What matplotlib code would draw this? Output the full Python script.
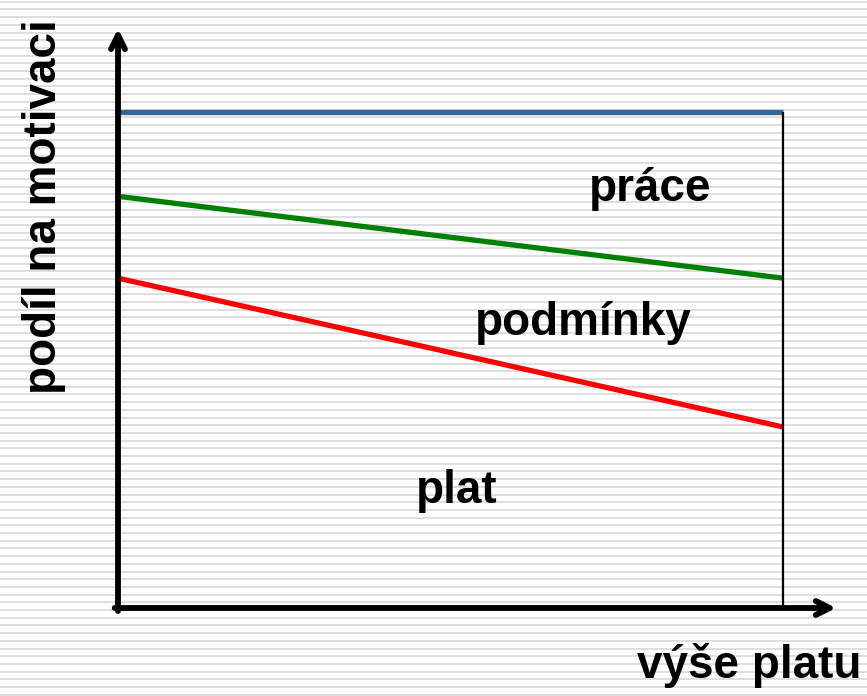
import numpy as np
import matplotlib.pyplot as plt

plt.rcParams["font.family"] = ["Liberation Sans", "DejaVu Sans"]

# data: share of motivation (0-100) along salary level (0-10)
x_range = [0, 10]
total = [100, 100]          # blue top line
conditions = [83, 66.5]     # green line (upper edge of "podmínky")
salary = [66.5, 36.5]       # red line (upper edge of "plat")

labels = ["práce", "podmínky", "plat"]
label_pos = [(8.0, 84.5), (7.0, 57.5), (5.1, 23.5)]

W, H = 867, 696
fig = plt.figure(figsize=(W / 100, H / 100), dpi=100)

# striped slide background
bg = fig.add_axes([0, 0, 1, 1])
bg.set_xlim(0, W)
bg.set_ylim(H, 0)
bg.axis("off")
stripe_y = np.arange(1.7, H, 7.7)
bg.hlines(stripe_y, 0, W, colors="#dedede", linewidth=1.4)

# main plot area
x0, x1, ytop, ybot = 118, 783, 112, 608
ax = fig.add_axes([x0 / W, 1 - ybot / H, (x1 - x0) / W, (ybot - ytop) / H])
ax.patch.set_alpha(0)
ax.set_xlim(x_range)
ax.set_ylim(0, 100)
for s in ax.spines.values():
    s.set_visible(False)
ax.set_xticks([])
ax.set_yticks([])

ax.plot(x_range, total, color="#336699", linewidth=3.8, solid_capstyle="butt", clip_on=False)
ax.plot(x_range, conditions, color="#008000", linewidth=3.8, solid_capstyle="butt", clip_on=False)
ax.plot(x_range, salary, color="#ff0000", linewidth=3.8, solid_capstyle="butt", clip_on=False)
ax.plot([10, 10], [0, 100], color="black", linewidth=1.6, solid_capstyle="butt", clip_on=False)

# axes with arrows
arrow = dict(arrowstyle="->,head_length=1.0,head_width=0.5", color="black",
             linewidth=4.2, shrinkA=0, shrinkB=0)
ax.annotate("", xy=(0, 1.168), xycoords="axes fraction", xytext=(0, -0.006),
            arrowprops=arrow, annotation_clip=False)
ax.annotate("", xy=(1.08, 0), xycoords="axes fraction", xytext=(-0.005, 0),
            arrowprops=arrow, annotation_clip=False)

for t, (lx, ly) in zip(labels, label_pos):
    ax.text(lx, ly, t, fontsize=33, fontweight="bold", ha="center", va="center")

fig.text(749 / W, 1 - 665 / H, "výše platu", fontsize=33, fontweight="bold",
         ha="center", va="center")
fig.text(44 / W, 1 - 207 / H, "podíl na motivaci", fontsize=33, fontweight="bold",
         ha="center", va="center", rotation=90)

fig.savefig("out.png", dpi=100)
